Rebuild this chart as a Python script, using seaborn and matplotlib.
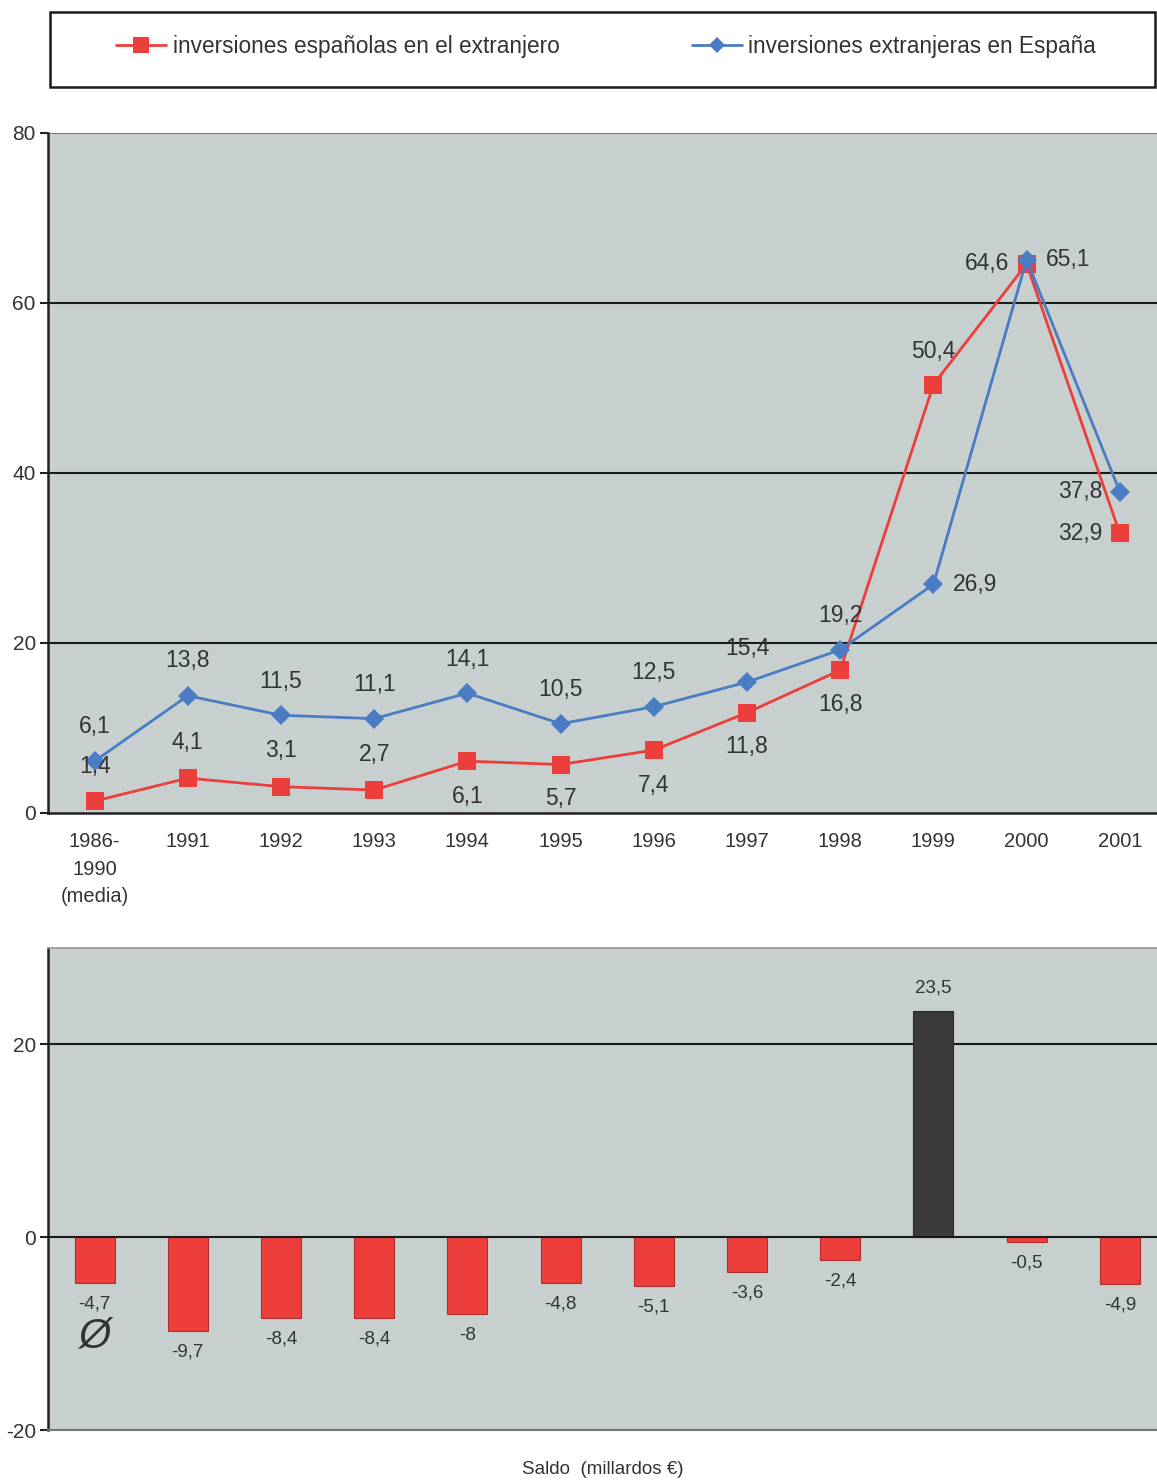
import numpy as np
import pandas as pd
import matplotlib
matplotlib.use("Agg")
import matplotlib.pyplot as plt
import seaborn as sns
from matplotlib.patches import Rectangle
from matplotlib.lines import Line2D

# ---------------- data ----------------
categories = ["1986-\n1990\n(media)", "1991", "1992", "1993", "1994", "1995",
              "1996", "1997", "1998", "1999", "2000", "2001"]
espanolas = [1.4, 4.1, 3.1, 2.7, 6.1, 5.7, 7.4, 11.8, 16.8, 50.4, 64.6, 32.9]
extranjeras = [6.1, 13.8, 11.5, 11.1, 14.1, 10.5, 12.5, 15.4, 19.2, 26.9, 65.1, 37.8]
saldo = [-4.7, -9.7, -8.4, -8.4, -8, -4.8, -5.1, -3.6, -2.4, 23.5, -0.5, -4.9]
label_esp = "inversiones españolas en el extranjero"
label_ext = "inversiones extranjeras en España"
saldo_title = "Saldo  (millardos €)"

# label offsets in pixels (style only)
off_esp = [(0, 35), (0, 36), (0, 36), (0, 36), (0, -35), (0, -34), (0, -35),
           (0, -34), (0, -34), (0, 33), (-40, 0), (-40, 0)]
off_ext = [(0, 35), (0, 35), (0, 34), (0, 34), (0, 34), (0, 34), (0, 34),
           (0, 34), (0, 34), (42, 0), (42, 0), (-40, 0)]

def fmt(v):
    return ("%g" % v).replace(".", ",")

sns.set_theme(style="white")
plt.rcParams["font.family"] = ["Liberation Sans", "DejaVu Sans"]
plt.rcParams["axes.unicode_minus"] = False

W, H = 1157, 1482
fig = plt.figure(figsize=(W / 100, H / 100), dpi=100)
fig.patch.set_facecolor("white")

BG = "#c7cfcf"
RED = "#ec3f3c"
BLUE = "#4a7cc4"
TXT = "#333333"

def ax_rect(l, t, r, b):
    return [l / W, 1 - b / H, (r - l) / W, (b - t) / H]

AX_R = 48 + 12 * 93.2  # axes extend slightly past the right edge

# ---------------- line chart ----------------
ax1 = fig.add_axes(ax_rect(48, 133, AX_R, 813))
ax1.set_facecolor(BG)
x = np.arange(len(categories))
df = pd.DataFrame({"x": np.concatenate([x, x]),
                   "v": espanolas + extranjeras,
                   "serie": [label_esp] * len(x) + [label_ext] * len(x)})
sns.lineplot(data=df[df.serie == label_esp], x="x", y="v", color=RED, lw=2,
             marker="s", markersize=13, markeredgewidth=0, ax=ax1, legend=False)
sns.lineplot(data=df[df.serie == label_ext], x="x", y="v", color=BLUE, lw=2,
             marker="D", markersize=10, markeredgewidth=0, ax=ax1, legend=False)
ax1.set_xlim(-0.5, len(x) - 0.5)
ax1.set_ylim(0, 80)
ax1.set_yticks([0, 20, 40, 60, 80])
for yv in [20, 40, 60]:
    ax1.axhline(yv, color="#1a1a1a", lw=1.5, zorder=0.5)
ax1.axhline(80, color="#777777", lw=1.5, zorder=0.5)
ax1.set_xticks(x)
ax1.set_xticklabels(categories, fontsize=14.5, color=TXT, linespacing=1.55)
ax1.set_xticks(np.arange(len(x) + 1) - 0.5, minor=True)
ax1.tick_params(axis="x", which="major", length=0, pad=14)
ax1.tick_params(axis="x", which="minor", length=6, width=1.5, color="#222222", direction="out")
ax1.tick_params(axis="y", length=5.8, width=1.5, color="#222222", direction="out",
                labelsize=15, labelcolor=TXT, pad=3, left=True)
ax1.set_xlabel("")
ax1.set_ylabel("")
for s in ["top", "right"]:
    ax1.spines[s].set_visible(False)
for s in ["left", "bottom"]:
    ax1.spines[s].set_color("#222222")
    ax1.spines[s].set_linewidth(1.8)

for xi, v, o in zip(x, espanolas, off_esp):
    ax1.annotate(fmt(v), (xi, v), xytext=o, textcoords="offset pixels",
                 ha="center", va="center", fontsize=16.5, color=TXT)
for xi, v, o in zip(x, extranjeras, off_ext):
    ax1.annotate(fmt(v), (xi, v), xytext=o, textcoords="offset pixels",
                 ha="center", va="center", fontsize=16.5, color=TXT)

# ---------------- bar chart ----------------
ax2 = fig.add_axes(ax_rect(48, 948, AX_R, 1430))
ax2.set_facecolor(BG)
bar_colors = [RED if v < 0 else "#3a3a3a" for v in saldo]
sdf = pd.DataFrame({"x": x, "saldo": saldo})
sns.barplot(data=sdf, x="x", y="saldo", hue="x", palette=bar_colors, legend=False,
            width=0.43, ax=ax2, edgecolor="#b03030", linewidth=0.8, saturation=1)
for p, c in zip(ax2.patches, bar_colors):
    if c != RED:
        p.set_edgecolor("#2a2a2a")
ax2.set_xlim(-0.5, len(x) - 0.5)
ax2.set_ylim(-20, 30)
ax2.set_yticks([-20, 0, 20])
ax2.axhline(20, color="#1a1a1a", lw=1.5, zorder=0.5)
ax2.axhline(0, color="#1a1a1a", lw=1.5, zorder=3)
ax2.set_xticks([])
ax2.tick_params(axis="y", length=5.8, width=1.5, color="#222222", direction="out",
                labelsize=15, labelcolor=TXT, pad=3, left=True)
ax2.set_xlabel("")
ax2.set_ylabel("")
ax2.spines["top"].set_color("#999999")
ax2.spines["right"].set_visible(False)
ax2.spines["left"].set_color("#222222")
ax2.spines["left"].set_linewidth(1.8)
ax2.spines["bottom"].set_color("#777777")
ax2.spines["bottom"].set_linewidth(1.5)
for xi, v in zip(x, saldo):
    ax2.annotate(fmt(v), (xi, v), xytext=(0, 23 if v > 0 else -21),
                 textcoords="offset pixels", ha="center", va="center",
                 fontsize=13.5, color=TXT)
ax2.text(0.0, -10.3, "\u00d8", fontsize=30, color="#333333",
         ha="center", va="center", fontstyle="italic")

fig.text(603 / W, 1 - 1470 / H, saldo_title, fontsize=13.5, color=TXT,
         ha="center", va="center")

# ---------------- legend ----------------
fig.patches.append(Rectangle((50 / W, 1 - 87 / H), (1155 - 50) / W, 75 / H,
                             transform=fig.transFigure, fill=False,
                             edgecolor="#1a1a1a", lw=1.8))
h1 = Line2D([], [], color=RED, lw=2, marker="s", markersize=11, markeredgewidth=0)
h2 = Line2D([], [], color=BLUE, lw=2, marker="D", markersize=8, markeredgewidth=0)
fig.legend([h1, h2], [label_esp, label_ext], loc="center left",
           bbox_to_anchor=(116 / W, 1 - 46 / H), ncol=2, frameon=False,
           fontsize=16.3, handlelength=2.2, handletextpad=0.3, columnspacing=5.85,
           borderpad=0, borderaxespad=0, labelcolor=TXT)

fig.savefig("out.png", dpi=100, facecolor="white")
